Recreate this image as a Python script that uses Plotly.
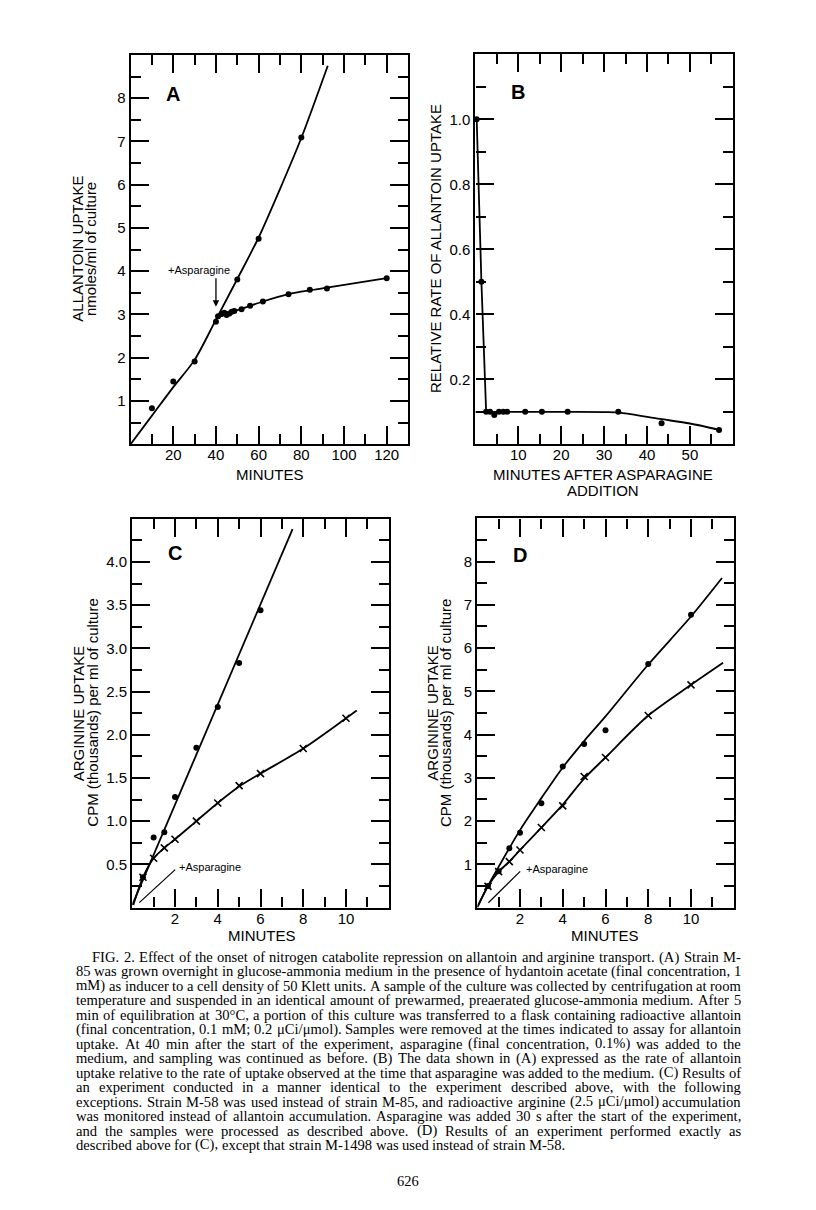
import plotly.graph_objects as go

W, H = 816, 1210
OFF = 8  # the page body margin shifts the figure; draw into the remaining area
FW, FH = W - OFF, H - OFF

# ---------------- Panel A: allantoin uptake ----------------
a_dot_x = [10, 20, 30, 40, 41, 42.7, 43.9, 45, 46.3, 47.4, 48.6, 52, 56, 62, 74, 84, 92, 120]
a_dot_y = [0.83, 1.45, 1.91, 2.83, 2.96, 3.01, 3.04, 2.99, 3.02, 3.06, 3.08, 3.12, 3.2, 3.3, 3.47, 3.57, 3.6, 3.84]
a_ctl_x = [50, 60, 80]
a_ctl_y = [3.81, 4.75, 7.09]
a_up_x = [0, 10, 20, 30, 40, 50, 60, 70, 80, 92.4]
a_up_y = [0, 0.66, 1.32, 1.95, 2.88, 3.82, 4.78, 5.9, 7.08, 8.75]
a_lo_x = [40, 42, 45, 48, 52, 56, 62, 74, 84, 92, 120]
a_lo_y = [2.9, 2.98, 3.02, 3.07, 3.13, 3.2, 3.3, 3.47, 3.56, 3.62, 3.84]

# ---------------- Panel B: relative rate ----------------
b_dot_x = [0.3, 1.4, 2.5, 3.4, 4.4, 5.5, 6.5, 7.4, 11.6, 15.5, 21.5, 33.3, 43.4, 56.8]
b_dot_y = [1.0, 0.5, 0.1, 0.1, 0.09, 0.1, 0.1, 0.1, 0.1, 0.1, 0.1, 0.1, 0.065, 0.044]
b_drop_x = [0.3, 1.4, 2.5]
b_drop_y = [1.0, 0.5, 0.1]
b_fit_x = [0, 20, 30, 34, 43, 50, 57]
b_fit_y = [0.1, 0.1, 0.099, 0.097, 0.078, 0.064, 0.044]

# ---------------- Panel C: arginine uptake, strain M-58 ----------------
c_dot_x = [0.5, 1, 1.5, 2, 3, 4, 5, 6]
c_dot_y = [0.35, 0.81, 0.87, 1.28, 1.85, 2.32, 2.83, 3.44]
c_dotfit_x = [0, 7.5]
c_dotfit_y = [0.03, 4.38]
c_x_x = [0.5, 1, 1.5, 2, 3, 4, 5, 6, 8, 10]
c_x_y = [0.35, 0.57, 0.69, 0.79, 1.0, 1.21, 1.41, 1.55, 1.84, 2.19]
c_xfit_x = [0.05, 0.5, 1, 1.5, 2, 3, 4, 5, 6, 8, 10, 10.5]
c_xfit_y = [0.03, 0.35, 0.57, 0.69, 0.79, 1.0, 1.21, 1.4, 1.55, 1.84, 2.19, 2.28]

# ---------------- Panel D: arginine uptake, strain M-1498 ----------------
d_dot_x = [0.5, 1, 1.5, 2, 3, 4, 5, 6, 8, 10]
d_dot_y = [0.5, 0.84, 1.37, 1.73, 2.41, 3.26, 3.78, 4.1, 5.63, 6.77]
d_dotfit_x = [0, 0.5, 1, 2, 3, 4, 5, 6, 8, 10, 11.45]
d_dotfit_y = [0, 0.5, 0.94, 1.79, 2.53, 3.24, 3.85, 4.42, 5.62, 6.73, 7.62]
d_x_x = [0.5, 1, 1.5, 2, 3, 4, 5, 6, 8, 10]
d_x_y = [0.49, 0.83, 1.06, 1.33, 1.85, 2.35, 3.03, 3.47, 4.44, 5.15]
d_xfit_x = [0.05, 0.5, 1, 1.5, 2, 3, 4, 5, 6, 8, 10, 11.5]
d_xfit_y = [0.06, 0.49, 0.83, 1.06, 1.33, 1.85, 2.38, 2.98, 3.47, 4.44, 5.15, 5.66]

# ---------------- tick labels ----------------
a_xt = [20, 40, 60, 80, 100, 120]
a_xminor = [10, 30, 50, 70, 90, 110]
a_yt = [1, 2, 3, 4, 5, 6, 7, 8]
a_yminor = [0.5, 1.5, 2.5, 3.5, 4.5, 5.5, 6.5, 7.5, 8.5]
b_xt = [10, 20, 30, 40, 50]
b_xminor = [5, 15, 25, 35, 45, 55]
b_yt = [0.2, 0.4, 0.6, 0.8, 1.0]
b_ytext = ["0.2", "0.4", "0.6", "0.8", "1.0"]
b_yminor = [0.1, 0.3, 0.5, 0.7, 0.9, 1.1]
cd_xt = [2, 4, 6, 8, 10]
cd_xminor = [1, 3, 5, 7, 9, 11]
c_yt = [0.5, 1.0, 1.5, 2.0, 2.5, 3.0, 3.5, 4.0]
c_ytext = ["0.5", "1.0", "1.5", "2.0", "2.5", "3.0", "3.5", "4.0"]
c_yminor = [0.25, 0.75, 1.25, 1.75, 2.25, 2.75, 3.25, 3.75, 4.25]
d_yt = [1, 2, 3, 4, 5, 6, 7, 8]
d_yminor = [0.5, 1.5, 2.5, 3.5, 4.5, 5.5, 6.5, 7.5, 8.5]

caption_lines = [
    "FIG. 2. Effect of the onset of nitrogen catabolite repression on allantoin and arginine transport. (A) Strain M-",
    "85 was grown overnight in glucose-ammonia medium in the presence of hydantoin acetate (final concentration, 1",
    "mM) as inducer to a cell density of 50 Klett units. A sample of the culture was collected by centrifugation at room",
    "temperature and suspended in an identical amount of prewarmed, preaerated glucose-ammonia medium. After 5",
    "min of equilibration at 30°C, a portion of this culture was transferred to a flask containing radioactive allantoin",
    "(final concentration, 0.1 mM; 0.2 μCi/μmol). Samples were removed at the times indicated to assay for allantoin",
    "uptake. At 40 min after the start of the experiment, asparagine (final concentration, 0.1%) was added to the",
    "medium, and sampling was continued as before. (B) The data shown in (A) expressed as the rate of allantoin",
    "uptake relative to the rate of uptake observed at the time that asparagine was added to the medium. (C) Results of",
    "an experiment conducted in a manner identical to the experiment described above, with the following",
    "exceptions. Strain M-58 was used instead of strain M-85, and radioactive arginine (2.5 μCi/μmol) accumulation",
    "was monitored instead of allantoin accumulation. Asparagine was added 30 s after the start of the experiment,",
    "and the samples were processed as described above. (D) Results of an experiment performed exactly as",
    "described above for (C), except that strain M-1498 was used instead of strain M-58.",
]
page_number = "626"

# ---------------- helpers (page pixels -> paper fractions) ----------------
def fx(p):
    return (p - OFF) / FW

def fy(p):
    return 1 - (p - OFF) / FH

SANS = "Liberation Sans"
SERIF = "Liberation Serif"
INK = "#000000"

def make_axis(rng, p0, p1, anchor, major, labels, minor, vertical=False):
    dom = [fy(p1), fy(p0)] if vertical else [fx(p0), fx(p1)]
    return dict(
        range=rng, domain=dom, anchor=anchor,
        showline=True, linewidth=2.2, linecolor=INK, mirror="allticks",
        ticks="inside", ticklen=18, tickwidth=2, tickcolor=INK,
        tickmode="array", tickvals=major, ticktext=labels,
        ticklabelstandoff=0 if vertical else -4,
        minor=dict(tickmode="array", tickvals=minor, ticks="inside",
                   ticklen=10, tickwidth=2, tickcolor=INK, showgrid=False),
        showgrid=False, zeroline=False, fixedrange=True,
        tickfont=dict(family=SANS, size=15, color=INK),
    )

layout_axes = {
    "xaxis": make_axis([0, 130], 130.6, 408.0, "y", a_xt, [str(v) for v in a_xt], a_xminor),
    "yaxis": make_axis([0, 9], 55.0, 444.2, "x", a_yt, [str(v) for v in a_yt], a_yminor, True),
    "xaxis2": make_axis([0, 60], 475.4, 732.8, "y2", b_xt, [str(v) for v in b_xt], b_xminor),
    "yaxis2": make_axis([0, 1.2], 54.3, 444.3, "x2", b_yt, b_ytext, b_yminor, True),
    "xaxis3": make_axis([0, 12], 132.25, 388.75, "y3", cd_xt, [str(v) for v in cd_xt], cd_xminor),
    "yaxis3": make_axis([0, 4.5], 518.7, 907.5, "x3", c_yt, c_ytext, c_yminor, True),
    "xaxis4": make_axis([0, 12], 477.25, 733.75, "y4", cd_xt, [str(v) for v in cd_xt], cd_xminor),
    "yaxis4": make_axis([0, 9], 518.4, 907.5, "x4", d_yt, [str(v) for v in d_yt], d_yminor, True),
}

fig = go.Figure()

def line(x, y, ax, smooth=True):
    fig.add_trace(go.Scatter(
        x=x, y=y, mode="lines", xaxis="x" + ax, yaxis="y" + ax,
        line=dict(color=INK, width=1.8, shape="spline" if smooth else "linear",
                  smoothing=0.8 if smooth else None),
        hoverinfo="skip", showlegend=False, cliponaxis=True))

def dots(x, y, ax):
    fig.add_trace(go.Scatter(
        x=x, y=y, mode="markers", xaxis="x" + ax, yaxis="y" + ax,
        marker=dict(symbol="circle", size=6, color=INK),
        hoverinfo="skip", showlegend=False, cliponaxis=False))

def crosses(x, y, ax):
    fig.add_trace(go.Scatter(
        x=x, y=y, mode="markers", xaxis="x" + ax, yaxis="y" + ax,
        marker=dict(symbol="x-thin", size=7, color=INK, line=dict(color=INK, width=1.6)),
        hoverinfo="skip", showlegend=False, cliponaxis=False))

# A ("" = first axis)
line(a_up_x, a_up_y, "")
line(a_lo_x, a_lo_y, "")
dots(a_dot_x, a_dot_y, "")
dots(a_ctl_x, a_ctl_y, "")
# B
line(b_drop_x, b_drop_y, "2", smooth=False)
line(b_fit_x, b_fit_y, "2")
dots(b_dot_x, b_dot_y, "2")
# C
line(c_dotfit_x, c_dotfit_y, "3", smooth=False)
line(c_xfit_x, c_xfit_y, "3")
dots(c_dot_x, c_dot_y, "3")
crosses(c_x_x, c_x_y, "3")
# D
line(d_dotfit_x, d_dotfit_y, "4")
line(d_xfit_x, d_xfit_y, "4")
dots(d_dot_x, d_dot_y, "4")
crosses(d_x_x, d_x_y, "4")

ann = []

def ptext(text, x, y, size=15, angle=0, family=SANS, xanchor="center", yanchor="middle"):
    ann.append(dict(text=text, x=fx(x), y=fy(y), xref="paper", yref="paper",
                    showarrow=False, textangle=angle, xanchor=xanchor, yanchor=yanchor,
                    font=dict(family=family, size=size, color=INK)))

# panel letters (data coordinates)
for letter, xr, yr, xv, yv in [("A", "x", "y", 20, 8.1), ("B", "x2", "y2", 10, 1.085),
                               ("C", "x3", "y3", 2.0, 4.1), ("D", "x4", "y4", 2.0, 8.15)]:
    ann.append(dict(text="<b>" + letter + "</b>", x=xv, y=yv, xref=xr, yref=yr,
                    showarrow=False, font=dict(family=SANS, size=20, color=INK)))

# +Asparagine marks
ann.append(dict(text="+Asparagine", x=32, y=4.03, xref="x", yref="y", showarrow=False,
                font=dict(family=SANS, size=11, color=INK)))
ann.append(dict(text="", x=40, y=3.18, ax=40, ay=3.87, xref="x", yref="y", axref="x", ayref="y",
                showarrow=True, arrowhead=2, arrowsize=1, arrowwidth=1.3, arrowcolor=INK))
ann.append(dict(text="+Asparagine", x=2.1, y=0.47, xref="x3", yref="y3", showarrow=False,
                xanchor="left", font=dict(family=SANS, size=11, color=INK)))
ann.append(dict(text="", x=0.33, y=0.056, ax=2.08, ay=0.454, xref="x3", yref="y3", axref="x3", ayref="y3",
                showarrow=True, arrowhead=0, arrowwidth=1.2, arrowcolor=INK))
ann.append(dict(text="+Asparagine", x=2.2, y=0.9, xref="x4", yref="y4", showarrow=False,
                xanchor="left", font=dict(family=SANS, size=11, color=INK)))
ann.append(dict(text="", x=0.52, y=0.11, ax=2.08, ay=0.87, xref="x4", yref="y4", axref="x4", ayref="y4",
                showarrow=True, arrowhead=0, arrowwidth=1.2, arrowcolor=INK))

# axis titles
ptext("ALLANTOIN UPTAKE", 76.7, 249, angle=-90)
ptext("nmoles/ml of culture", 90, 249, angle=-90)
ptext("MINUTES", 270, 474)
ptext("RELATIVE RATE OF ALLANTOIN UPTAKE", 435, 249, angle=-90)
ptext("MINUTES AFTER ASPARAGINE", 603, 474)
ptext("ADDITION", 603, 491)
ptext("ARGININE UPTAKE", 78.3, 713, angle=-90)
ptext("CPM (thousands) per ml of culture", 91.7, 713, angle=-90)
ptext("MINUTES", 262, 935)
ptext("ARGININE UPTAKE", 431.7, 713, angle=-90)
ptext("CPM (thousands) per ml of culture", 445, 713, angle=-90)
ptext("MINUTES", 605, 935)

# ---------------- caption, justified word by word ----------------
TIMES = {" ": 250, "!": 333, "%": 833, "(": 333, ")": 333, "+": 564, ",": 250, "-": 333, ".": 250,
         "/": 278, ":": 278, ";": 278, "°": 400, "μ": 500}
for ch in "0123456789":
    TIMES[ch] = 500
TIMES.update(dict(zip("ABCDEFGHIJKLMNOPQRSTUVWXYZ",
                      [722, 667, 667, 722, 611, 556, 722, 722, 333, 389, 722, 611, 889, 722, 722,
                       556, 722, 667, 556, 611, 722, 722, 944, 722, 722, 611])))
TIMES.update(dict(zip("abcdefghijklmnopqrstuvwxyz",
                      [444, 500, 444, 500, 444, 333, 500, 500, 278, 278, 500, 278, 778, 500, 500,
                       500, 500, 333, 389, 278, 500, 500, 722, 500, 500, 444])))

CAP_FS = 14.6
CAP_LEFT, CAP_RIGHT, CAP_INDENT = 75.0, 740.0, 16.0
CAP_TOP, CAP_STEP = 957.0, 14.46

def word_w(wd):
    return sum(TIMES.get(c, 500) for c in wd) * CAP_FS / 1000.0

for i, ln in enumerate(caption_lines):
    words = ln.split(" ")
    left = CAP_LEFT + (CAP_INDENT if i == 0 else 0)
    widths = [word_w(wd) for wd in words]
    if i < len(caption_lines) - 1:
        gap = (CAP_RIGHT - left - sum(widths)) / (len(words) - 1)
    else:
        gap = 250 * CAP_FS / 1000.0
    xcur = left
    yline = CAP_TOP + i * CAP_STEP
    for wd, wdt in zip(words, widths):
        ann.append(dict(text=wd, x=fx(xcur), y=fy(yline), xref="paper", yref="paper",
                        showarrow=False, xanchor="left", yanchor="middle", borderpad=0,
                        font=dict(family=SERIF, size=CAP_FS, color=INK)))
        xcur += wdt + gap

ptext(page_number, 408, 1181, size=14.5, family=SERIF)

fig.update_layout(
    width=FW, height=FH, autosize=False,
    margin=dict(l=0, r=0, t=0, b=0),
    paper_bgcolor="white", plot_bgcolor="white",
    showlegend=False, annotations=ann, **layout_axes,
)

fig.write_html("out.html")
